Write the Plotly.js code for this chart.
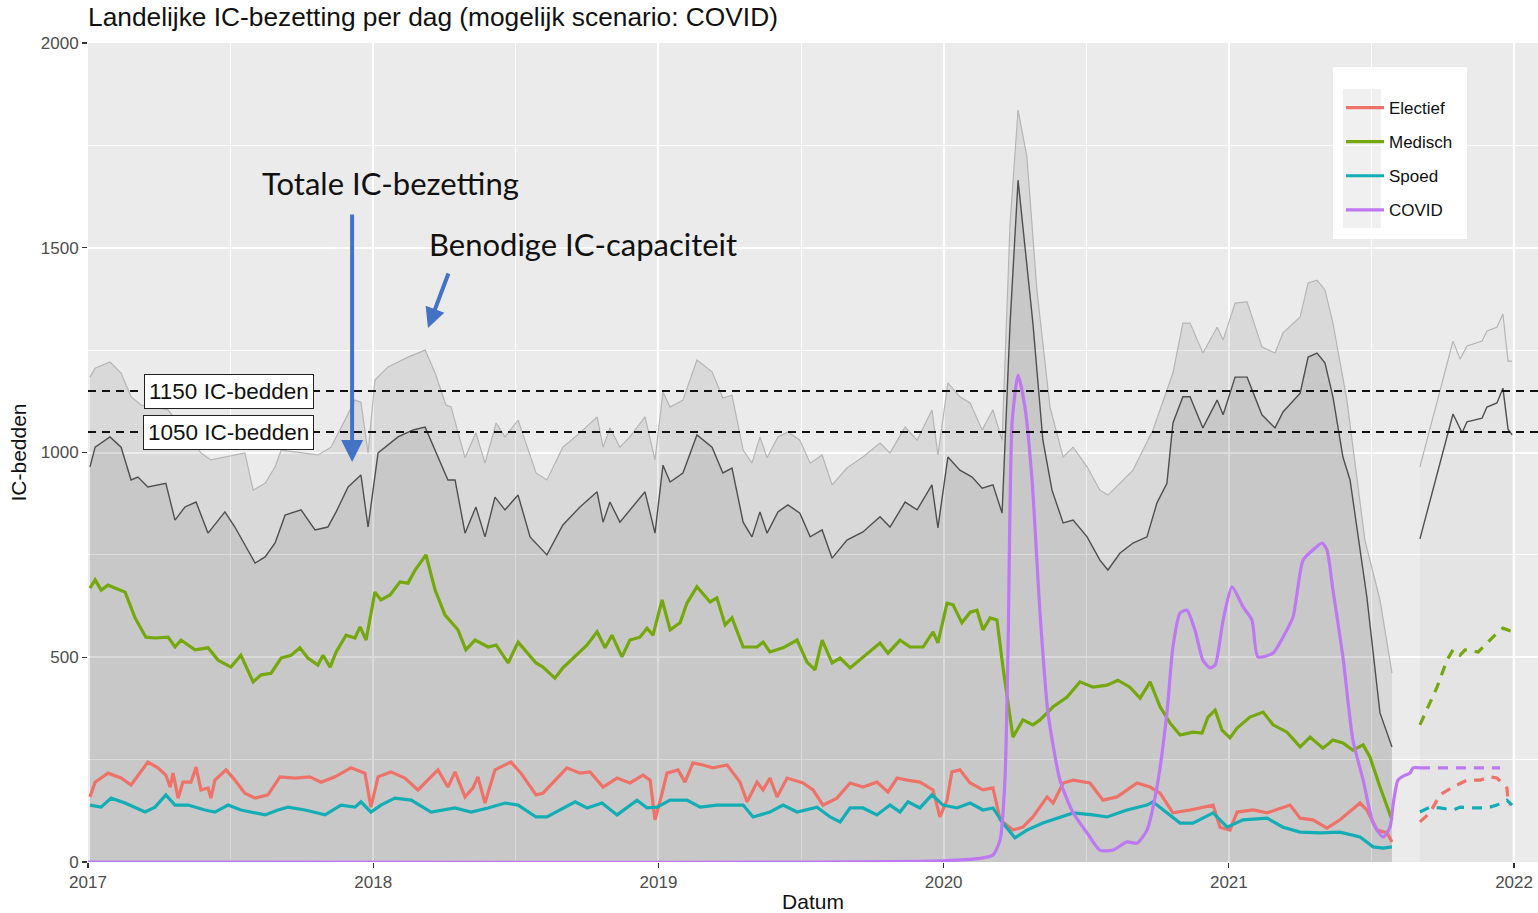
<!DOCTYPE html>
<html>
<head>
<meta charset="utf-8">
<script src="https://cdn.plot.ly/plotly-3.0.1.min.js"></script>
<style>
  html, body { margin: 0; padding: 0; background: #ffffff; }
  #chart { width: 1538px; height: 913px; }
</style>
</head>
<body>
<div id="chart"></div>
<script>
// ---- Data (x in decimal years) ----
const totX = [2017.007,2017.025,2017.077,2017.116,2017.151,2017.175,2017.210,2017.273,2017.305,2017.340,2017.379,2017.421,2017.480,2017.515,2017.586,2017.621,2017.656,2017.691,2017.747,2017.796,2017.841,2017.870,2017.912,2017.957,2017.982,2018.017,2018.087,2018.140,2018.182,2018.227,2018.262,2018.287,2018.322,2018.360,2018.392,2018.427,2018.462,2018.508,2018.550,2018.609,2018.665,2018.725,2018.785,2018.806,2018.830,2018.865,2018.900,2018.953,2018.988,2019.016,2019.041,2019.086,2019.135,2019.188,2019.226,2019.258,2019.297,2019.328,2019.356,2019.381,2019.419,2019.454,2019.496,2019.532,2019.574,2019.609,2019.661,2019.717,2019.777,2019.812,2019.865,2019.907,2019.959,2019.980,2020.015,2020.057,2020.100,2020.135,2020.173,2020.205,2020.233,2020.261,2020.313,2020.348,2020.380,2020.419,2020.454,2020.503,2020.548,2020.576,2020.618,2020.664,2020.713,2020.748,2020.783,2020.804,2020.839,2020.864,2020.909,2020.959,2020.980,2021.022,2021.064,2021.116,2021.162,2021.190,2021.250,2021.278,2021.309,2021.337,2021.365,2021.400,2021.425,2021.484,2021.530,2021.572];
const totY = [965,1013,1038,1013,933,940,916,925,835,867,879,803,855,818,730,745,779,847,860,811,818,855,916,945,818,999,1038,1055,1062,989,933,933,803,867,794,891,860,896,794,750,823,867,904,830,879,830,860,904,803,969,928,950,1043,1013,950,962,830,794,855,803,855,872,852,794,811,742,786,806,843,818,879,860,921,816,989,957,940,913,921,852,1316,1665,1316,1030,908,828,835,794,737,713,754,779,794,877,925,1072,1136,1136,1060,1128,1092,1184,1184,1092,1060,1099,1145,1233,1243,1219,1136,989,933,647,364,281];

const capX = [2017.007,2017.025,2017.077,2017.116,2017.151,2017.186,2017.281,2017.396,2017.431,2017.550,2017.579,2017.621,2017.656,2017.677,2017.806,2017.852,2017.901,2017.936,2017.957,2017.982,2018.006,2018.052,2018.122,2018.182,2018.217,2018.255,2018.273,2018.322,2018.360,2018.392,2018.431,2018.462,2018.508,2018.571,2018.609,2018.665,2018.725,2018.785,2018.806,2018.830,2018.865,2018.900,2018.953,2018.988,2019.016,2019.041,2019.086,2019.135,2019.188,2019.226,2019.258,2019.297,2019.328,2019.356,2019.381,2019.419,2019.454,2019.496,2019.532,2019.574,2019.609,2019.661,2019.717,2019.777,2019.812,2019.865,2019.907,2019.959,2019.980,2020.015,2020.057,2020.093,2020.135,2020.173,2020.205,2020.233,2020.261,2020.292,2020.327,2020.373,2020.419,2020.454,2020.503,2020.548,2020.576,2020.664,2020.734,2020.804,2020.839,2020.864,2020.909,2020.959,2020.980,2021.022,2021.064,2021.116,2021.162,2021.190,2021.250,2021.278,2021.309,2021.337,2021.365,2021.414,2021.477,2021.530,2021.572];
const capY = [1184,1206,1221,1194,1136,1116,1104,999,982,999,908,925,965,1006,994,1013,1079,1128,1123,999,1177,1209,1233,1250,1194,1116,1111,987,1048,974,1072,1038,1079,950,933,1013,1048,1087,1013,1060,1013,1038,1087,982,1148,1111,1128,1226,1197,1133,1140,1006,974,1038,987,1038,1050,1030,974,994,921,962,989,1023,999,1062,1030,1104,994,1170,1136,1121,1055,1104,1030,1560,1836,1722,1397,1111,989,1013,965,908,896,957,1055,1194,1316,1316,1243,1306,1275,1365,1368,1258,1243,1292,1331,1414,1421,1397,1316,1128,786,640,461];

const medX = [2017.007,2017.025,2017.046,2017.070,2017.130,2017.165,2017.203,2017.235,2017.281,2017.305,2017.326,2017.375,2017.421,2017.456,2017.501,2017.536,2017.579,2017.607,2017.642,2017.677,2017.712,2017.743,2017.771,2017.806,2017.824,2017.849,2017.870,2017.905,2017.936,2017.954,2017.975,2018.006,2018.027,2018.059,2018.094,2018.122,2018.147,2018.185,2018.217,2018.252,2018.297,2018.325,2018.357,2018.403,2018.431,2018.473,2018.508,2018.571,2018.595,2018.637,2018.665,2018.701,2018.750,2018.785,2018.813,2018.837,2018.872,2018.900,2018.935,2018.960,2018.981,2019.013,2019.041,2019.076,2019.100,2019.135,2019.181,2019.205,2019.234,2019.258,2019.297,2019.346,2019.367,2019.391,2019.437,2019.486,2019.521,2019.549,2019.574,2019.609,2019.637,2019.672,2019.717,2019.777,2019.805,2019.847,2019.882,2019.928,2019.963,2019.980,2020.012,2020.033,2020.064,2020.093,2020.117,2020.138,2020.163,2020.187,2020.208,2020.243,2020.278,2020.313,2020.338,2020.384,2020.433,2020.478,2020.524,2020.573,2020.611,2020.653,2020.689,2020.724,2020.759,2020.794,2020.829,2020.874,2020.906,2020.927,2020.952,2020.976,2021.004,2021.029,2021.074,2021.120,2021.155,2021.204,2021.250,2021.285,2021.330,2021.365,2021.400,2021.435,2021.471,2021.495,2021.530,2021.572];
const medY = [669,689,664,676,659,596,549,547,549,525,542,518,523,493,476,505,440,457,461,498,505,523,498,481,505,476,513,554,547,574,542,659,640,652,684,681,713,750,664,603,567,518,542,525,530,486,537,486,476,449,474,498,530,562,523,554,501,542,549,571,554,640,567,584,632,672,635,645,579,596,525,525,537,513,523,542,488,469,542,486,498,474,501,535,510,542,525,525,562,535,632,628,584,610,615,567,596,591,476,305,347,335,347,379,403,440,427,432,444,427,400,440,379,339,310,317,315,354,371,322,303,327,354,366,335,317,281,305,278,298,291,273,286,256,183,103];

const elecX = [2017.007,2017.025,2017.070,2017.116,2017.151,2017.210,2017.245,2017.273,2017.288,2017.298,2017.316,2017.333,2017.361,2017.379,2017.396,2017.421,2017.431,2017.445,2017.484,2017.515,2017.550,2017.586,2017.631,2017.673,2017.726,2017.778,2017.817,2017.866,2017.922,2017.971,2017.992,2018.017,2018.062,2018.111,2018.157,2018.227,2018.262,2018.287,2018.322,2018.350,2018.367,2018.392,2018.427,2018.483,2018.518,2018.571,2018.595,2018.630,2018.679,2018.725,2018.760,2018.806,2018.855,2018.900,2018.946,2018.971,2018.988,2019.013,2019.030,2019.069,2019.093,2019.121,2019.156,2019.191,2019.241,2019.286,2019.311,2019.346,2019.367,2019.391,2019.416,2019.451,2019.507,2019.542,2019.577,2019.626,2019.672,2019.717,2019.766,2019.805,2019.837,2019.872,2019.917,2019.963,2019.987,2020.012,2020.029,2020.057,2020.093,2020.138,2020.173,2020.198,2020.243,2020.278,2020.313,2020.363,2020.384,2020.419,2020.454,2020.513,2020.559,2020.608,2020.678,2020.724,2020.759,2020.804,2020.864,2020.945,2020.969,2021.004,2021.029,2021.085,2021.134,2021.215,2021.250,2021.295,2021.344,2021.390,2021.460,2021.484,2021.520,2021.555,2021.572];
const elecY = [159,195,217,205,188,244,230,212,183,217,156,195,195,232,176,181,156,200,225,200,168,156,164,208,205,208,195,208,230,217,134,208,220,205,176,225,183,220,159,181,208,144,225,244,217,164,168,193,230,217,220,183,205,193,212,200,103,168,217,225,195,242,237,230,237,195,147,195,176,205,159,205,193,176,139,156,193,183,195,171,205,200,195,176,110,151,220,225,193,176,181,103,78,85,110,159,144,193,200,193,151,159,193,183,168,120,127,139,85,78,122,127,120,139,107,103,83,103,144,127,78,71,49];

const spoedX = [2017.007,2017.046,2017.081,2017.130,2017.200,2017.235,2017.273,2017.305,2017.351,2017.410,2017.445,2017.491,2017.536,2017.621,2017.666,2017.701,2017.761,2017.831,2017.887,2017.936,2017.957,2017.992,2018.027,2018.076,2018.133,2018.203,2018.287,2018.343,2018.403,2018.462,2018.508,2018.571,2018.609,2018.665,2018.708,2018.750,2018.802,2018.855,2018.925,2018.960,2018.995,2019.041,2019.100,2019.146,2019.205,2019.297,2019.332,2019.391,2019.437,2019.486,2019.556,2019.602,2019.637,2019.672,2019.717,2019.766,2019.812,2019.847,2019.875,2019.917,2019.959,2019.998,2020.047,2020.093,2020.138,2020.173,2020.208,2020.250,2020.292,2020.348,2020.408,2020.454,2020.524,2020.573,2020.643,2020.713,2020.734,2020.783,2020.829,2020.874,2020.945,2020.994,2021.050,2021.134,2021.190,2021.250,2021.320,2021.390,2021.460,2021.506,2021.541,2021.572];
const spoedY = [139,134,156,144,122,134,164,139,139,127,122,139,127,115,127,134,127,115,139,134,147,122,139,156,151,122,132,122,132,144,139,110,110,132,147,132,144,115,151,132,134,151,151,134,139,139,110,122,139,122,134,110,98,132,132,115,139,122,147,132,164,139,132,144,127,132,95,59,78,95,110,120,115,110,127,139,147,120,95,95,120,85,103,107,85,73,71,73,61,37,34,37];

const covidX = [2017.000,2019.998,2020.138,2020.173,2020.198,2020.215,2020.226,2020.240,2020.261,2020.285,2020.310,2020.338,2020.366,2020.408,2020.454,2020.503,2020.548,2020.594,2020.643,2020.678,2020.713,2020.748,2020.783,2020.804,2020.829,2020.853,2020.881,2020.909,2020.934,2020.952,2020.980,2021.011,2021.050,2021.081,2021.102,2021.155,2021.190,2021.225,2021.260,2021.295,2021.327,2021.344,2021.365,2021.400,2021.435,2021.471,2021.506,2021.541,2021.565,2021.576,2021.593,2021.618,2021.635,2021.646,2021.670];
const covidY = [0,3,10,17,54,200,525,1072,1189,1111,933,608,364,200,120,71,29,29,49,46,78,183,364,525,608,615,567,493,474,481,591,672,623,591,501,510,549,598,737,762,779,762,664,501,298,200,95,61,85,140,200,212,217,230,230];

// Forecast (dashed / light) part
const fcTotX = [2021.670,2021.786,2021.818,2021.835,2021.888,2021.905,2021.940,2021.961,2021.979,2021.993];
const fcTotY = [789,1094,1048,1075,1084,1111,1121,1157,1057,1043];
const fcCapX = [2021.670,2021.786,2021.811,2021.835,2021.888,2021.905,2021.940,2021.961,2021.979,2021.993];
const fcCapY = [965,1272,1228,1260,1272,1297,1306,1338,1223,1223];
const fcMedX = [2021.670,2021.730,2021.765,2021.786,2021.811,2021.828,2021.874,2021.905,2021.933,2021.961,2021.996];
const fcMedY = [335,427,493,518,505,518,513,535,554,571,562];
const fcElecX = [2021.670,2021.705,2021.740,2021.786,2021.835,2021.881,2021.916,2021.940,2021.975,2021.979,2021.986];
const fcElecY = [98,120,164,183,200,200,208,205,181,151,139];
const fcSpoedX = [2021.670,2021.705,2021.740,2021.786,2021.811,2021.856,2021.905,2021.940,2021.975,2021.993];
const fcSpoedY = [122,134,132,127,134,132,132,139,151,139];
const fcCovidX = [2021.670,2021.951];
const fcCovidY = [230,230];

const seriesNames = ['Electief','Medisch','Spoed','COVID'];
const seriesColors = ['#EE7268','#74A80C','#13ADB6','#BD78F2'];
const capacityLines = [1150, 1050];
const capacityLabels = ['1150 IC-bedden','1050 IC-bedden'];
const yearTicks = [2017,2018,2019,2020,2021,2022];
const yTicks = [0,500,1000,1500,2000];

// ---- Traces ----
const traces = [];
traces.push({x: capX, y: capY, type:'scatter', mode:'lines', fill:'tozeroy',
  fillcolor:'rgba(0,0,0,0.075)', line:{color:'#B5B5B5', width:1.2}, showlegend:false, hoverinfo:'skip'});
traces.push({x: totX, y: totY, type:'scatter', mode:'lines', fill:'tozeroy',
  fillcolor:'rgba(0,0,0,0.075)', line:{color:'#4F4F4F', width:1.4}, showlegend:false, hoverinfo:'skip'});
traces.push({x: fcCapX, y: fcCapY, type:'scatter', mode:'lines', fill:'tozeroy',
  fillcolor:'rgba(0,0,0,0.014)', line:{color:'#B5B5B5', width:1.2}, showlegend:false, hoverinfo:'skip'});
traces.push({x: fcTotX, y: fcTotY, type:'scatter', mode:'lines', fill:'tozeroy',
  fillcolor:'rgba(0,0,0,0.01)', line:{color:'#4F4F4F', width:1.4}, showlegend:false, hoverinfo:'skip'});

const hist = [[elecX,elecY],[medX,medY],[spoedX,spoedY],[covidX,covidY]];
const fc = [[fcElecX,fcElecY],[fcMedX,fcMedY],[fcSpoedX,fcSpoedY],[fcCovidX,fcCovidY]];
for (let i = 0; i < 4; i++) {
  traces.push({x: fc[i][0], y: fc[i][1], type:'scatter', mode:'lines',
    line:{color: seriesColors[i], width:3.2, dash:'10px,8px'}, showlegend:false, hoverinfo:'skip'});
}
for (let i = 0; i < 4; i++) {
  traces.push({x: hist[i][0], y: hist[i][1], type:'scatter', mode:'lines', name: seriesNames[i],
    legendgroup: 'g' + i, line:{color: seriesColors[i], width:3.2, shape: i === 3 ? 'spline' : 'linear', smoothing: 0.6}});
}

// ---- Shapes & annotations ----
const px = v => (v - 88) / 1450;      // pixel -> paper x
const py = v => (862 - v) / 819;      // pixel -> paper y
const shapes = [
  {type:'rect', xref:'paper', yref:'paper', x0:px(1333), x1:px(1467), y0:py(239), y1:py(67),
    fillcolor:'#FFFFFF', line:{width:0}, layer:'below'},
  {type:'rect', xref:'paper', yref:'paper', x0:px(1343), x1:px(1381), y0:py(228), y1:py(89),
    fillcolor:'#F0F0F0', line:{width:0}, layer:'below'}
];
capacityLines.forEach(v => shapes.push({type:'line', xref:'paper', x0:0, x1:1, yref:'y', y0:v, y1:v,
  line:{color:'#111111', width:2, dash:'8px,6px'}, layer:'above'}));

const annotations = capacityLines.map((v, i) => ({x: 2017.494, y: v, xref:'x', yref:'y', text: capacityLabels[i],
  showarrow:false, bgcolor:'#FFFFFF', bordercolor:'#222222', borderwidth:1, borderpad:4,
  font:{family:'Liberation Sans, Arial, sans-serif', size:22.5, color:'#111111'}}));

annotations.push({x: 2018.062, y: 1658, xref:'x', yref:'y', text:'Totale IC-bezetting', showarrow:false,
  font:{family:'Lato, Open Sans, sans-serif', size:31, color:'#111111'}});
annotations.push({x: 2018.736, y: 1509, xref:'x', yref:'y', text:'Benodige IC-capaciteit', showarrow:false,
  font:{family:'Lato, Open Sans, sans-serif', size:31, color:'#111111'}});
annotations.push({x: 2017.926, y: 977, xref:'x', yref:'y', text:'', showarrow:true, ax:0, ay:-249,
  arrowhead:2, arrowsize:1.1, arrowwidth:4, arrowcolor:'#4472C4', standoff:0});
annotations.push({x: 2018.192, y: 1304, xref:'x', yref:'y', text:'', showarrow:true, ax:21, ay:-56,
  arrowhead:2, arrowsize:1, arrowwidth:4, arrowcolor:'#4472C4', standoff:0});

const layout = {
  width: 1538, height: 913,
  paper_bgcolor:'#FFFFFF', plot_bgcolor:'#EBEBEB',
  margin:{l:88, r:0, t:43, b:51},
  font:{family:'Liberation Sans, Arial, sans-serif', color:'#111111'},
  title:{text:'Landelijke IC-bezetting per dag (mogelijk scenario: COVID)', xref:'container', x:88/1538, xanchor:'left',
    yref:'container', y:1 - 17/913, yanchor:'middle', font:{size:26.3, color:'#111111'}},
  xaxis:{range:[2017, 2022.084], type:'linear', tickvals: yearTicks, ticktext: yearTicks.map(String),
    ticks:'outside', ticklen:5, tickwidth:1.2, tickcolor:'#333333', showgrid:true, gridcolor:'#FFFFFF', gridwidth:2,
    zeroline:false, showline:false, tickfont:{size:17, color:'#4D4D4D'},
    minor:{dtick:0.5, tick0:2017, showgrid:true, gridcolor:'#FFFFFF', gridwidth:1},
    title:{text:'Datum', font:{size:21, color:'#111111'}, standoff:4}, automargin:false},
  yaxis:{range:[0,2000], tickvals: yTicks, ticktext: yTicks.map(String),
    ticks:'outside', ticklen:5, tickwidth:1.2, tickcolor:'#333333', showgrid:true, gridcolor:'#FFFFFF', gridwidth:2,
    zeroline:false, showline:false, tickfont:{size:17, color:'#4D4D4D'},
    minor:{dtick:250, showgrid:true, gridcolor:'#FFFFFF', gridwidth:1},
    title:{text:'IC-bedden', font:{size:21, color:'#111111'}, standoff:8}, automargin:false},
  showlegend:true,
  legend:{x:px(1341), y:py(90), xanchor:'left', yanchor:'top', bgcolor:'rgba(0,0,0,0)',
    font:{size:17, color:'#111111'}, tracegroupgap:9, itemwidth:38, traceorder:'grouped'},
  shapes: shapes,
  annotations: annotations
};

Plotly.newPlot('chart', traces, layout, {displayModeBar:false, staticPlot:true});
</script>
</body>
</html>
